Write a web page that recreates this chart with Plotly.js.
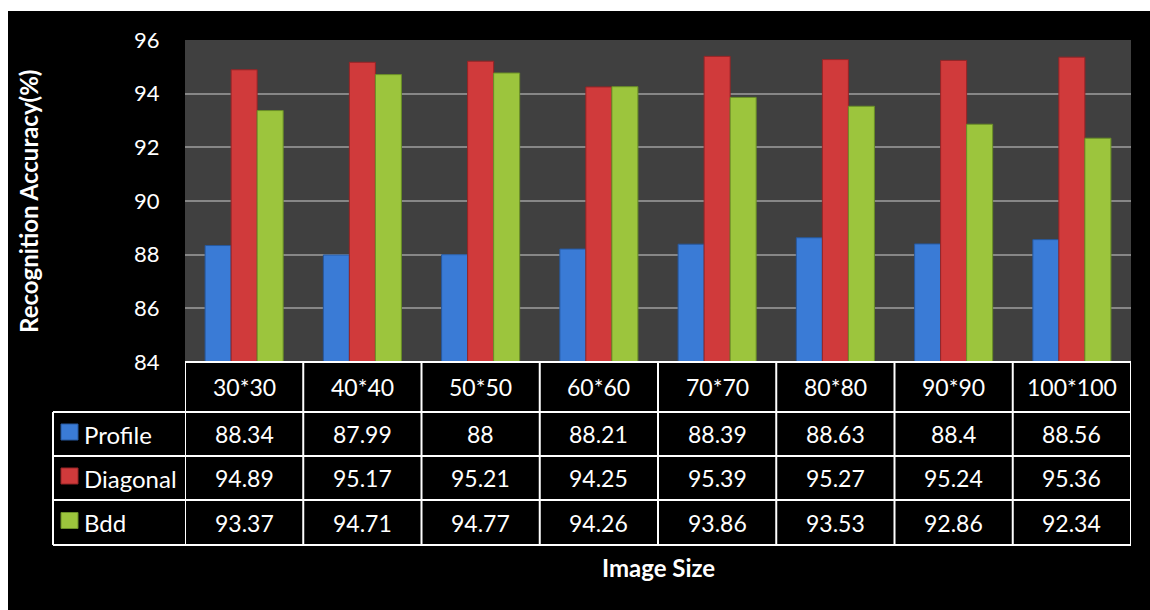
<!DOCTYPE html>
<html>
<head>
<meta charset="utf-8">
<script src="https://cdn.plot.ly/plotly-3.0.1.min.js"></script>
<style>html,body{margin:0;padding:0;background:#fff;}#chart{width:1150px;height:610px;}</style>
</head>
<body>
<div id="chart"></div>
<script>
const categories = ['30*30', '40*40', '50*50', '60*60', '70*70', '80*80', '90*90', '100*100'];
const profile = [88.34, 87.99, 88, 88.21, 88.39, 88.63, 88.4, 88.56];
const diagonal = [94.89, 95.17, 95.21, 94.25, 95.39, 95.27, 95.24, 95.36];
const bdd = [93.37, 94.71, 94.77, 94.26, 93.86, 93.53, 92.86, 92.34];
const seriesNames = ['Profile', 'Diagonal', 'Bdd'];
const seriesColors = ['#3a7bd6', '#d03a3b', '#9cc53d'];
const seriesEdge = ['#26589e', '#962426', '#6a8f27'];
const yTicks = [84, 86, 88, 90, 92, 94, 96];
const yTitle = 'Recognition Accuracy(%)';
const xTitle = 'Image Size';

const W = 1150, H = 610;
const px = v => v / W;
const py = v => 1 - v / H;
const FONT = 'Lato, "Open Sans", sans-serif';

const plotLeft = 185, plotRight = 1131, plotTop = 40, plotBottom = 362;
const rowEdges = [362, 412, 456, 500, 545];
const legendLeft = 53;

const seriesData = [profile, diagonal, bdd];
const traces = seriesData.map((vals, i) => ({
  type: 'bar',
  name: seriesNames[i],
  x: categories,
  y: vals,
  marker: {color: seriesColors[i], line: {color: seriesEdge[i], width: 1}},
  hoverinfo: 'x+y+name'
}));

const shapes = [];
const annotations = [];
// white margins of the picture
shapes.push({type: 'rect', xref: 'paper', yref: 'paper', x0: 0, x1: px(8), y0: 0, y1: 1,
  fillcolor: '#ffffff', line: {width: 0}, layer: 'above'});
shapes.push({type: 'rect', xref: 'paper', yref: 'paper', x0: 0, x1: 1, y0: py(11), y1: 1,
  fillcolor: '#ffffff', line: {width: 0}, layer: 'above'});

const lineStyle = {color: '#ffffff', width: 2};
// vertical table lines at category boundaries
for (let k = 0; k <= categories.length; k++) {
  shapes.push({type: 'line', xref: 'x', yref: 'paper', x0: k - 0.5, x1: k - 0.5,
    y0: py(rowEdges[0]), y1: py(rowEdges[rowEdges.length - 1]), line: lineStyle});
}
// horizontal table lines
shapes.push({type: 'line', xref: 'paper', yref: 'paper', x0: px(plotLeft), x1: px(plotRight),
  y0: py(rowEdges[0]), y1: py(rowEdges[0]), line: lineStyle});
for (let r = 1; r < rowEdges.length; r++) {
  shapes.push({type: 'line', xref: 'paper', yref: 'paper', x0: px(legendLeft), x1: px(plotRight),
    y0: py(rowEdges[r]), y1: py(rowEdges[r]), line: lineStyle});
}
shapes.push({type: 'line', xref: 'paper', yref: 'paper', x0: px(legendLeft), x1: px(legendLeft),
  y0: py(rowEdges[1]), y1: py(rowEdges[rowEdges.length - 1]), line: lineStyle});

const cellFont = {family: FONT, size: 23, color: '#ffffff'};
const labelFont = {family: FONT, size: 24, color: '#ffffff'};
// header row (categories)
categories.forEach(c => {
  annotations.push({xref: 'x', yref: 'paper', x: c, y: py((rowEdges[0] + rowEdges[1]) / 2),
    text: c, showarrow: false, font: cellFont, xanchor: 'center', yanchor: 'middle'});
});
// data rows
seriesData.forEach((vals, i) => {
  const yc = py((rowEdges[i + 1] + rowEdges[i + 2]) / 2);
  vals.forEach((v, j) => {
    annotations.push({xref: 'x', yref: 'paper', x: categories[j], y: yc,
      text: String(v), showarrow: false, font: cellFont, xanchor: 'center', yanchor: 'middle'});
  });
  // legend key
  const keyTop = (rowEdges[i + 1] + rowEdges[i + 2]) / 2 - 10;
  shapes.push({type: 'rect', xref: 'paper', yref: 'paper', x0: px(61), x1: px(78),
    y0: py(keyTop + 16), y1: py(keyTop), fillcolor: seriesColors[i], line: {color: seriesEdge[i], width: 1}});
  annotations.push({xref: 'paper', yref: 'paper', x: px(82), y: yc,
    text: seriesNames[i], showarrow: false, font: labelFont, xanchor: 'left', yanchor: 'middle'});
});

annotations.push({xref: 'paper', yref: 'paper', x: px(28), y: py(202), text: yTitle, textangle: -90,
  showarrow: false, font: {family: FONT, size: 24, color: '#ffffff', weight: 'bold'},
  xanchor: 'center', yanchor: 'middle'});
annotations.push({xref: 'paper', yref: 'paper', x: px(658), y: py(567), text: xTitle,
  showarrow: false, font: {family: FONT, size: 24, color: '#ffffff', weight: 'bold'},
  xanchor: 'center', yanchor: 'middle'});

const layout = {
  width: W, height: H,
  margin: {l: 0, r: 0, t: 0, b: 0, pad: 0},
  paper_bgcolor: '#000000',
  plot_bgcolor: '#404040',
  barmode: 'group',
  bargap: 0.34,
  bargroupgap: 0,
  showlegend: false,
  xaxis: {
    domain: [px(plotLeft), px(plotRight)],
    type: 'category',
    range: [-0.5, categories.length - 0.5],
    showticklabels: false, ticks: '', showgrid: false, zeroline: false, showline: false
  },
  yaxis: {
    domain: [py(plotBottom), py(plotTop)],
    range: [84, 96],
    tickvals: yTicks,
    ticktext: yTicks.map(String),
    showgrid: true, gridcolor: '#878787', gridwidth: 2,
    zeroline: false, showline: false,
    ticks: 'outside', ticklen: 20, tickcolor: 'rgba(0,0,0,0)',
    tickfont: {family: FONT, size: 22, color: '#ffffff'}
  },
  shapes: shapes,
  annotations: annotations
};

Plotly.newPlot('chart', traces, layout, {displayModeBar: false, staticPlot: true});
</script>
</body>
</html>
